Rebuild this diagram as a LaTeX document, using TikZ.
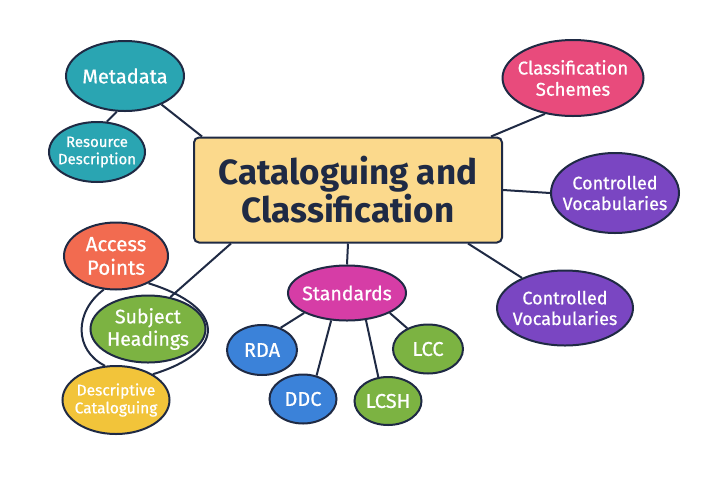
\documentclass[tikz,border=0pt]{standalone}
\usepackage{fontspec}
\setmainfont{Fira Sans}
\usetikzlibrary{shapes.geometric}
\pgfdeclarelayer{background}
\pgfsetlayers{background,main}
\definecolor{navy}{HTML}{1F2A44}
\definecolor{boxfill}{HTML}{FBD98C}
\definecolor{cteal}{HTML}{2AA5B2}
\definecolor{cpink}{HTML}{E84B7C}
\definecolor{cpurple}{HTML}{7A46C2}
\definecolor{ccoral}{HTML}{F26B50}
\definecolor{cgreen}{HTML}{7CB342}
\definecolor{cyellow}{HTML}{F2C43A}
\definecolor{cmagenta}{HTML}{D63DA6}
\definecolor{cblue}{HTML}{3B82D9}
\newcommand{\bubblefont}[1]{\fontsize{#1}{1.15\dimexpr#1pt\relax}\selectfont\addfontfeature{FakeBold=0.7}}
\tikzset{
  bubble/.style={ellipse, draw=navy, line width=2pt, inner sep=-18pt, text=white, align=center},
  link/.style={draw=navy, line width=2pt},
}
\begin{document}
\begin{tikzpicture}[x=1pt,y=-1pt]
\useasboundingbox (0,0) rectangle (720,480);
\node[draw=navy, fill=boxfill, line width=2pt, rounded corners=5pt, minimum width=308pt, minimum height=105pt, align=center, text=navy, font=\fontsize{35}{38}\selectfont\bfseries] (box) at (348,190) {Cataloguing and\\Classification};

\node[bubble, fill=cteal, minimum width=118pt, minimum height=70pt, font=\bubblefont{20}] (md) at (125,76) {Metadata};
\node[bubble, fill=cteal, minimum width=96pt, minimum height=60pt, font=\bubblefont{15}] (rd) at (97,152) {Resource\\Description};
\node[bubble, fill=cpink, minimum width=141pt, minimum height=76pt, font=\bubblefont{18.5}] (cs) at (573,78) {Classification\\Schemes};
\node[bubble, fill=cpurple, minimum width=128pt, minimum height=80pt, font=\bubblefont{18}] (cv1) at (615,193) {Controlled\\Vocabularies};
\node[bubble, fill=cpurple, minimum width=136pt, minimum height=75pt, font=\bubblefont{18}] (cv2) at (565,308) {Controlled\\Vocabularies};
\node[bubble, fill=ccoral, minimum width=104pt, minimum height=67pt, font=\bubblefont{20.5}] (ap) at (116,256) {Access\\Points};
\node[bubble, fill=cgreen, minimum width=115pt, minimum height=67pt, font=\bubblefont{19.5}] (sh) at (148,329) {Subject\\Headings};
\node[bubble, fill=cyellow, minimum width=107pt, minimum height=68pt, font=\bubblefont{15.5}] (dc) at (116,400) {Descriptive\\Cataloguing};
\node[bubble, fill=cmagenta, minimum width=118pt, minimum height=55pt, font=\bubblefont{19.5}] (st) at (347,293) {Standards};
\node[bubble, fill=cblue, minimum width=70pt, minimum height=50pt, font=\bubblefont{20}] (rda) at (262,350) {RDA};
\node[bubble, fill=cblue, minimum width=67pt, minimum height=49pt, font=\bubblefont{20}] (ddc) at (303,399) {DDC};
\node[bubble, fill=cgreen, minimum width=67pt, minimum height=48pt, font=\bubblefont{20}] (lcsh) at (388,401) {LCSH};
\node[bubble, fill=cgreen, minimum width=70pt, minimum height=49pt, font=\bubblefont{20}] (lcc) at (428,349) {LCC};

\begin{pgfonlayer}{background}
\fill[white] (0,0) rectangle (720,480);
\draw[link] (md.-38) -- ([xshift=9pt]box.north west);
\draw[link] (md.-103) -- (rd.72);
\draw[link] (cs.232) -- ([xshift=-12pt]box.north east);
\draw[link] (box.east) -- (cv1.west);
\draw[link] ([xshift=-35pt]box.south east) -- (cv2.145);
\draw[link] (box.south) -- (st.north);
\draw[link] ([xshift=38pt]box.south west) -- (sh.55);
\draw[link] (ap.250) .. controls (74,312) and (74,350) .. (dc.108);
\draw[link] (ap.-40) .. controls (228,308) and (226,352) .. (dc.35);
\draw[link] (st.205) -- (rda.50);
\draw[link] (st.240) -- (ddc.60);
\draw[link] (st.-55) -- (lcsh.112);
\draw[link] (st.-25) -- (lcc.135);
\end{pgfonlayer}
\end{tikzpicture}
\end{document}
